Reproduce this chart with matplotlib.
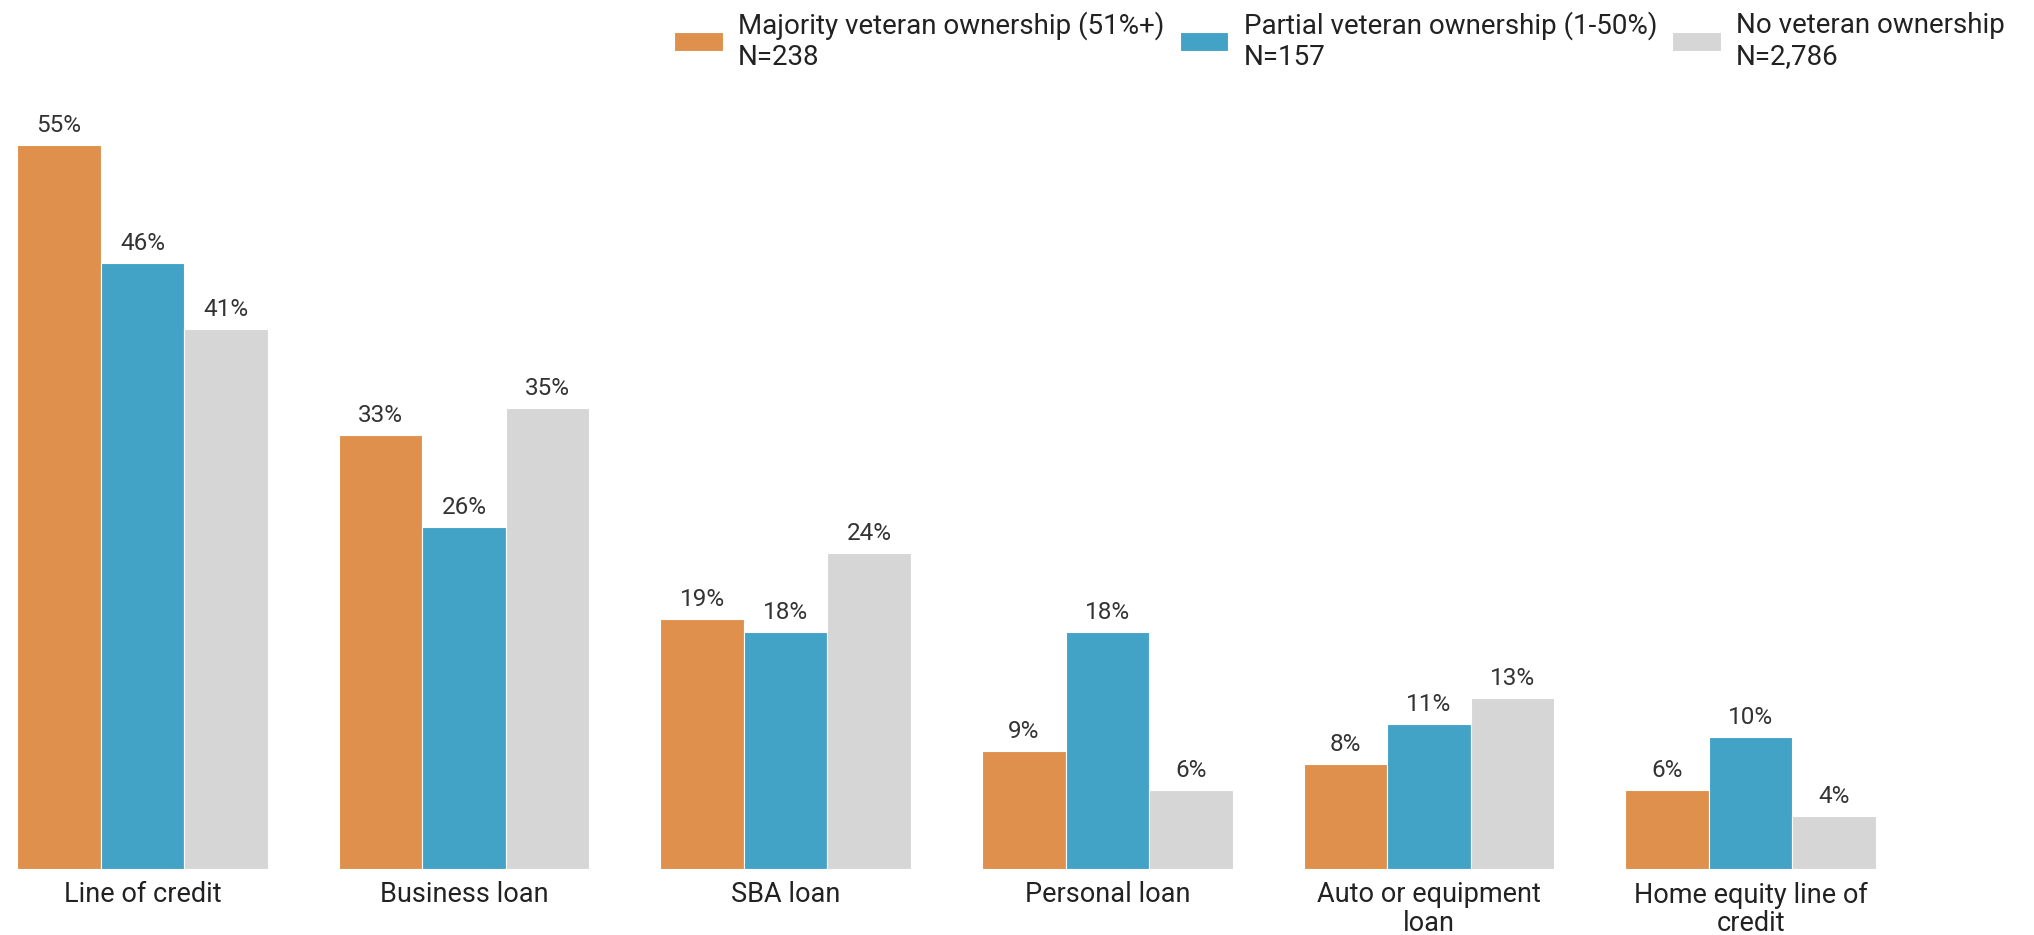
import numpy as np
import matplotlib
matplotlib.use('Agg')
import matplotlib.pyplot as plt

plt.rcParams['font.family'] = ['Roboto', 'DejaVu Sans']

# data
categories = ['Line of credit', 'Business loan', 'SBA loan', 'Personal loan',
              'Auto or equipment\nloan', 'Home equity line of\ncredit']
majority = [55, 33, 19, 9, 8, 6]
partial = [46, 26, 18, 18, 11, 10]
no_vet = [41, 35, 24, 6, 13, 4]
series_labels = ['Majority veteran ownership (51%+)\nN=238',
                 'Partial veteran ownership (1-50%)\nN=157',
                 'No veteran ownership\nN=2,786']
colors = ['#DF904C', '#42A3C7', '#D6D6D6']

fig = plt.figure(figsize=(20.34, 9.35), dpi=100)
ax = fig.add_axes([17 / 2034, 1 - 869 / 935, (1876 - 17) / 2034, 869 / 935 - 79 / 935])

x = np.arange(len(categories))
w = 0.26
for i, (vals, lab, c) in enumerate(zip([majority, partial, no_vet], series_labels, colors)):
    bars = ax.bar(x + (i - 1) * w, vals, w, color=c, label=lab,
                  edgecolor='white', linewidth=0.8)
    for b, v in zip(bars, vals):
        ax.text(b.get_x() + b.get_width() / 2, v + 0.6, f'{v}%',
                ha='center', va='bottom', fontsize=17.5, color='#333333')

ax.set_xlim(-0.39, 5.39)
ax.set_ylim(0, 60)
ax.set_xticks(x)
ax.set_xticklabels(categories, fontsize=19.5, color='#222222', linespacing=1.05)
ax.tick_params(axis='x', length=0, pad=9)
ax.set_yticks([])
for s in ax.spines.values():
    s.set_visible(False)

fig.legend(loc='upper right', bbox_to_anchor=(0.998, 1.015), ncol=3, frameon=False,
           fontsize=20, handlelength=1.75, handleheight=0.7, handletextpad=0.55,
           columnspacing=0.55, labelcolor='#222222')

fig.savefig('out.png', dpi=100, facecolor='white')
